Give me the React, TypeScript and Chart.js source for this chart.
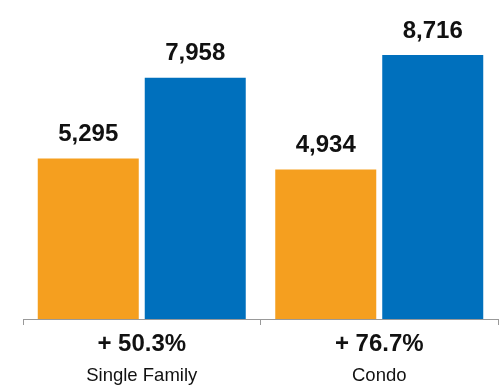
import React, { useEffect, useRef } from "react";
import { Chart, registerables } from "chart.js";

Chart.register(...registerables);

const categories = ["Single Family", "Condo"];
const changeLabels = ["+ 50.3%", "+ 76.7%"];
const seriesBefore = [5295, 4934];
const seriesAfter = [7958, 8716];

const FONT = "'Liberation Sans', Arial, Helvetica, sans-serif";

const valueLabelPlugin = {
  id: "valueLabels",
  afterDatasetsDraw(chart: any) {
    const ctx = chart.ctx;
    ctx.save();
    ctx.font = `bold 24px ${FONT}`;
    ctx.fillStyle = "#111111";
    ctx.textAlign = "center";
    ctx.textBaseline = "bottom";
    chart.data.datasets.forEach((ds: any, di: number) => {
      const meta = chart.getDatasetMeta(di);
      meta.data.forEach((el: any, i: number) => {
        const v = ds.data[i] as number;
        ctx.fillText(v.toLocaleString("en-US"), el.x, el.y - 12);
      });
    });
    ctx.restore();
  },
};

export default function App() {
  const ref = useRef<HTMLCanvasElement>(null);
  useEffect(() => {
    if (!ref.current) return;
    const chart = new Chart(ref.current, {
      type: "bar",
      data: {
        labels: categories,
        datasets: [
          {
            label: "Before",
            data: seriesBefore,
            backgroundColor: "#F59F1F",
            categoryPercentage: 0.901,
            barPercentage: 0.944,
            xAxisID: "x",
          },
          {
            label: "After",
            data: seriesAfter,
            backgroundColor: "#0070BD",
            categoryPercentage: 0.901,
            barPercentage: 0.944,
            xAxisID: "x",
          },
        ],
      },
      options: {
        animation: false,
        responsive: true,
        maintainAspectRatio: false,
        layout: { padding: { left: 23, right: 1, top: 16, bottom: 0 } },
        plugins: { legend: { display: false }, tooltip: { enabled: false } },
        scales: {
          y: { display: false, min: 0, max: 10000 },
          x: {
            type: "category",
            position: "bottom",
            weight: 0,
            labels: changeLabels,
            offset: true,
            grid: {
              display: true,
              drawOnChartArea: false,
              offset: true,
              tickLength: 6,
              color: "#999999",
              lineWidth: 1,
            },
            border: { display: true, color: "#999999", width: 1 },
            ticks: {
              color: "#111111",
              font: { family: FONT, size: 24, weight: "bold" },
              padding: 4.6,
              maxRotation: 0,
            },
          },
          x2: {
            type: "category",
            position: "bottom",
            weight: 1,
            labels: categories,
            offset: true,
            grid: { display: false, drawOnChartArea: false, drawTicks: false },
            border: { display: false },
            ticks: {
              color: "#111111",
              font: { family: FONT, size: 18.5 },
              padding: 1.4,
              maxRotation: 0,
            },
            afterFit: (scale: any) => {
              scale.height = 22;
            },
          },
        },
      },
      plugins: [valueLabelPlugin],
    });
    return () => chart.destroy();
  }, []);
  return (
    <div style={{ position: "absolute", left: 0, top: 0, width: 499, height: 385, background: "#fff" }}>
      <canvas ref={ref} />
    </div>
  );
}
